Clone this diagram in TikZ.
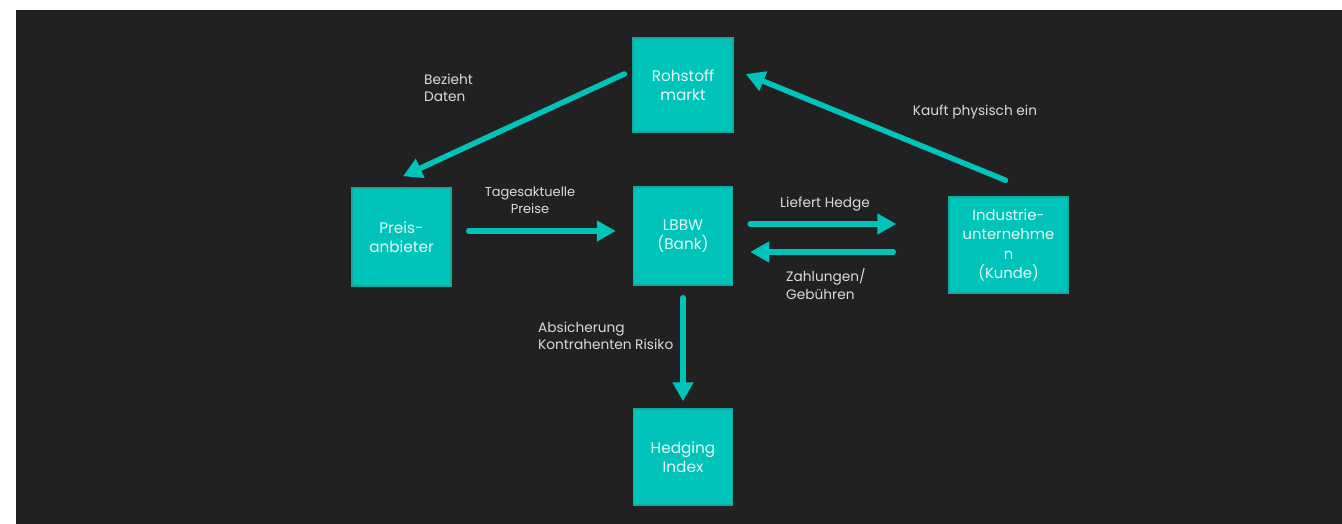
\documentclass[tikz,border=0pt]{standalone}
\usepackage{fontspec}
\setmainfont{Poppins}
\usetikzlibrary{arrows.meta}
\definecolor{bgdark}{HTML}{212121}
\definecolor{teal1}{HTML}{00C4B9}
\definecolor{tealb}{HTML}{14A99F}
\definecolor{boxtxt}{HTML}{E4F8F6}
\definecolor{lbl}{HTML}{DADADA}
\definecolor{faint}{HTML}{1F1F1F}
\begin{document}
\begin{tikzpicture}[x=1pt,y=-1pt,
  box/.style={draw=tealb,line width=1.5pt,fill=teal1,text=boxtxt,align=center,
    inner sep=0pt,font=\fontsize{15.3}{19.5}\selectfont},
  lab/.style={text=lbl,inner sep=0pt,font=\fontsize{13.7}{17.5}\selectfont},
  conn/.style={draw=teal1,line width=5.5pt,line cap=round,
    -{Triangle[length=19pt,width=20pt]}}]
\useasboundingbox (0,0) rectangle (1342,524);
\fill[white] (0,0) rectangle (1342,524);
\fill[bgdark] (16,10) rectangle (1342,524);
\draw[faint,line width=0.6pt] (178,23) -- (1193,23);
\draw[faint,line width=0.6pt] (178,519) -- (1342,519);

\node[box,minimum width=100pt,minimum height=94pt] (roh) at (683,85) {Rohstoff\\markt};
\node[box,minimum width=99pt,minimum height=98pt] (preis) at (401.5,237) {Preis-\\anbieter};
\node[box,minimum width=99pt,minimum height=98pt] (lbbw) at (683,236) {LBBW\\(Bank)};
\node[box,minimum width=119pt,minimum height=96pt,font=\fontsize{14.8}{19.5}\selectfont] (ind) at (1008.5,245) {Industrie-\\unternehme\\n\\(Kunde)};
\node[box,minimum width=99pt,minimum height=96pt] (hedge) at (683,457) {Hedging\\Index};

\draw[conn] ([shift={(-8,-11)}]roh.west) -- ([shift={(1.5,-11)}]preis.north);
\draw[conn] ([shift={(17,-6)}]preis.east) -- ([shift={(-17,-5)}]lbbw.west);
\draw[conn] ([shift={(17,-12)}]lbbw.east) -- ([shift={(-52,-21)}]ind.west);
\draw[conn] ([shift={(-55,7)}]ind.west) -- ([shift={(17,16)}]lbbw.east);
\draw[conn] ([shift={(0,12)}]lbbw.south) -- ([shift={(0,-7)}]hedge.north);
\draw[conn] ([shift={(-3,-16)}]ind.north) -- ([shift={(12,-11)}]roh.east);

\node[lab,align=left,anchor=west] (l1) at (424,88) {Bezieht\\Daten};
\node[lab,align=center,font=\fontsize{13}{16.5}\selectfont] (l2) at (530,200) {Tagesaktuelle\\Preise};
\node[lab] (l3) at (825,204) {Liefert Hedge};
\node[lab,align=left,anchor=west] (l4) at (786,284) {Zahlungen/\\Gebühren};
\node[lab] (l5) at (975,112) {Kauft physisch ein};
\node[lab,align=left,anchor=west] (l6) at (538,336) {Absicherung\\Kontrahenten Risiko};
\end{tikzpicture}
\end{document}
